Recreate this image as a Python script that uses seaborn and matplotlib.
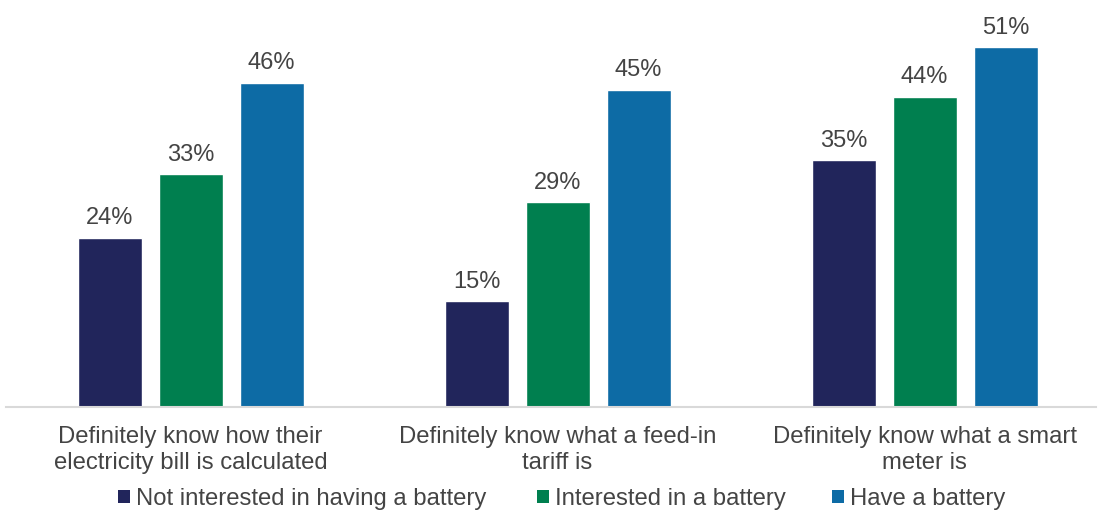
import matplotlib
matplotlib.use("Agg")
import matplotlib.pyplot as plt
import seaborn as sns
import pandas as pd
from matplotlib.patches import Patch

categories = [
    "Definitely know how their\nelectricity bill is calculated",
    "Definitely know what a feed-in\ntariff is",
    "Definitely know what a smart\nmeter is",
]
series = ["Not interested in having a battery", "Interested in a battery", "Have a battery"]
not_interested = [24, 15, 35]
interested = [33, 29, 44]
have_battery = [46, 45, 51]
colors = ["#21255B", "#007F4F", "#0D6BA5"]

rows = []
for s, vals in zip(series, [not_interested, interested, have_battery]):
    for c, v in zip(categories, vals):
        rows.append({"category": c, "series": s, "value": v})
df = pd.DataFrame(rows)

sns.set_theme(style="white")
plt.rcParams["font.family"] = ["Liberation Sans", "DejaVu Sans"]

fig = plt.figure(figsize=(10.99, 5.13), dpi=100)
ax = fig.add_axes([6 / 1099, (513 - 407) / 513, 1090 / 1099, 407 / 513])

sns.barplot(data=df, x="category", y="value", hue="series", order=categories,
            hue_order=series, palette=colors, width=0.662, gap=0.21,
            saturation=1, ax=ax, legend=False)

text_col = "#444444"
for cont in ax.containers:
    ax.bar_label(cont, labels=[f"{v:.0f}%" for v in cont.datavalues],
                 padding=6, fontsize=17, color=text_col)

ax.set_xlim(-0.503, 2.467)
ax.set_ylim(0, 57.7)
ax.set_xlabel("")
ax.set_ylabel("")
ax.set_yticks([])
ax.tick_params(axis="x", length=0, pad=14, labelsize=17.2, labelcolor=text_col)
for lbl in ax.get_xticklabels():
    lbl.set_linespacing(1.22)
for sp in ["top", "left", "right"]:
    ax.spines[sp].set_visible(False)
ax.spines["bottom"].set_color("#D9D9D9")
ax.spines["bottom"].set_linewidth(1.5)

legend_x = [118, 537, 832]
for name, col, x in zip(series, colors, legend_x):
    fig.legend([Patch(facecolor=col, edgecolor="none")], [name], loc="center left",
               bbox_to_anchor=(x / 1099, 1 - 499 / 513), frameon=False,
               borderpad=0, borderaxespad=0, handlelength=0.5, handleheight=0.5,
               handletextpad=0.25, prop={"size": 17.2}, labelcolor=text_col)

fig.savefig("out.png", dpi=100)
